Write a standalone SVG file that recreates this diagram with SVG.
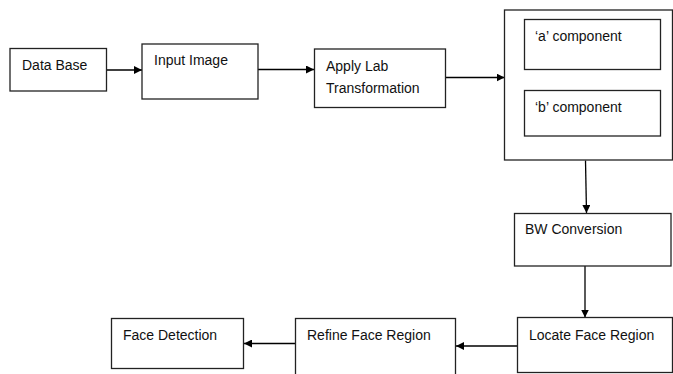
<svg xmlns="http://www.w3.org/2000/svg" width="673" height="374" viewBox="0 0 673 374">
<defs>
<marker id="ah" viewBox="0 0 10 10" refX="10" refY="5" markerWidth="8" markerHeight="8" markerUnits="userSpaceOnUse" orient="auto">
<path d="M0,0 L10,5 L0,10 Z" fill="#000"/>
</marker>
<style>
.box{fill:#fff;stroke:#222;stroke-width:1.3}
.t{font-family:"Liberation Sans",Arial,sans-serif;font-size:14px;fill:#111}
.c{fill:none;stroke:#000;stroke-width:1.3;marker-end:url(#ah)}
</style>
</defs>
<rect width="673" height="374" fill="#fff"/>
<g id="connectors">
<line class="c" x1="106.5" y1="70" x2="142" y2="70"/>
<line class="c" x1="258" y1="69.5" x2="314" y2="69.5"/>
<line class="c" x1="446" y1="77.5" x2="504.5" y2="77.5"/>
<line class="c" x1="585.5" y1="160.5" x2="586.5" y2="213"/>
<line class="c" x1="585" y1="266" x2="585" y2="317.5"/>
<line class="c" x1="517.5" y1="346" x2="456" y2="346"/>
<line class="c" x1="295.5" y1="343.5" x2="244" y2="343.5"/>
</g>
<g id="database">
<rect class="box" x="10" y="48.5" width="96.5" height="42.5"/>
<text class="t" x="22" y="70">Data Base</text>
</g>
<g id="inputimage">
<rect class="box" x="142" y="44" width="116" height="55"/>
<text class="t" x="154" y="65">Input Image</text>
</g>
<g id="applylab">
<rect class="box" x="314.5" y="49" width="131" height="58.5"/>
<text class="t" x="326" y="71">Apply Lab</text>
<text class="t" x="326" y="93">Transformation</text>
</g>
<g id="components">
<rect class="box" x="504.5" y="10" width="168" height="150"/>
<g id="acomp">
<rect class="box" x="524.5" y="19.5" width="136" height="50"/>
<text class="t" x="535" y="41">‘a’ component</text>
</g>
<g id="bcomp">
<rect class="box" x="524.5" y="90.5" width="136" height="45.5"/>
<text class="t" x="535" y="112">‘b’ component</text>
</g>
</g>
<g id="bwconversion">
<rect class="box" x="514.5" y="213.5" width="156.5" height="52.5"/>
<text class="t" x="525" y="234">BW Conversion</text>
</g>
<g id="locateface">
<rect class="box" x="517.5" y="317.5" width="155" height="55"/>
<text class="t" x="529" y="340">Locate Face Region</text>
</g>
<g id="refineface">
<rect class="box" x="295.5" y="318.5" width="160" height="60"/>
<text class="t" x="307" y="340">Refine Face Region</text>
</g>
<g id="facedetection">
<rect class="box" x="111.5" y="318.5" width="132" height="50"/>
<text class="t" x="123" y="340">Face Detection</text>
</g>
</svg>
